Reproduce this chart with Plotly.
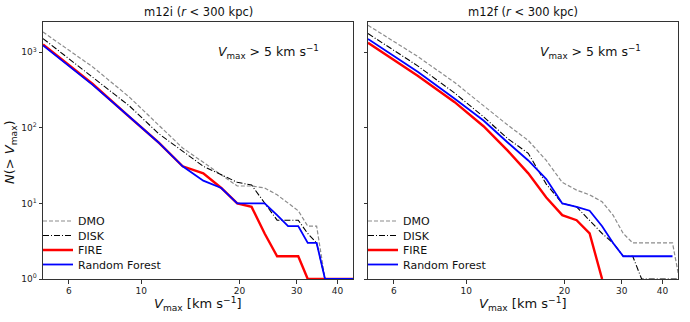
import plotly.graph_objects as go
import plotly.subplots as pls

# Vmax grid (km/s)
vmax = [5.0, 7.1, 9.2, 11.3, 13.4, 15.5, 17.6, 19.7, 21.8, 23.9,
        26.1, 28.2, 30.3, 32.4, 34.5, 36.6, 38.7, 40.8, 42.9, 45.0]

# m12i
m12i_dmo = [1850, 640, 255, 108, 54, 35, 24, 17, 17, 16,
            13, 10, 8, 5, 5, 1, 1, 1, 1, 1]
m12i_disk = [1515, 470, 195, 84, 49, 31, 24, 19, 17.5, 10,
             6, 6, 6, 4, 3, 1, 1, 1, 1, 1]
m12i_fire = [1265, 380, 140, 64, 31, 25, 16, 10, 9, 4,
             2, 2, 2, 1, 1, 1, 1, 1, 1, 1]
m12i_rf = [1230, 370, 140, 64, 31, 20, 16, 10, 10, 10,
           7, 5, 5, 3, 3, 1, 1, 1, 1, 1]

# m12f
m12f_dmo = [2274, 880, 400, 195, 109, 68, 37, 19, 15, 13,
            10.5, 7, 4, 3, 3, 3, 3, 3, 3, 1]
m12f_disk = [1766, 660, 290, 140, 72, 46, 18, 10, 9, 6,
             4, 3, 2, 2, 1, 1, 1, 1, 1, 1]
m12f_fire = [1330, 490, 220, 105, 50, 25, 12, 7, 6, 4,
             1, None, None, None, None, None, None, None, None, None]
m12f_rf = [1500, 550, 245, 125, 64, 37, 21, 10, 9, 8,
           5, 3, 2, 2, 2, 2, 2, 2, 2, None]

series_names = ["DMO", "DISK", "FIRE", "Random Forest"]
titles = ["m12i (<i>r</i> < 300 kpc)", "m12f (<i>r</i> < 300 kpc)"]

styles = {
    "DMO": dict(color="#8c8c8c", width=1.2, dash="4px,2px"),
    "DISK": dict(color="black", width=1.1, dash="6px,2px,1px,2px"),
    "FIRE": dict(color="#ff0000", width=2.4),
    "Random Forest": dict(color="#0000ff", width=1.8),
}

fig = pls.make_subplots(rows=1, cols=2)

panels = [
    [m12i_dmo, m12i_disk, m12i_fire, m12i_rf],
    [m12f_dmo, m12f_disk, m12f_fire, m12f_rf],
]

# one small legend per entry so the row spacing can follow the reference
leg_x = [38 / 690, 363 / 690]
leg_y = [221, 235.5, 250, 264.5]
legends = {}
k = 0
for i, panel in enumerate(panels):
    for j, (name, ys) in enumerate(zip(series_names, panel)):
        k += 1
        lname = "legend" if k == 1 else "legend%d" % k
        legends[lname] = dict(x=leg_x[i], y=1 - leg_y[j] / 322,
                              xanchor="left", yanchor="middle",
                              bgcolor="rgba(0,0,0,0)", font=dict(size=11, color="#111"),
                              itemwidth=30)
        fig.add_trace(go.Scatter(
            x=vmax, y=ys, mode="lines", name=name,
            line=styles[name], legend=lname, showlegend=True,
        ), row=1, col=i + 1)

font = "DejaVu Sans"
axcol = "#333333"

xaxis_common = dict(
    type="log", range=[0.69897, 1.6493], automargin=False,
    tickvals=[6, 10, 20, 30, 40], ticktext=["6", "10", "20", "30", "40"],
    ticks="outside", ticklen=3.5, tickcolor=axcol, tickfont=dict(size=9, color="#222"),
    showline=True, linecolor=axcol, linewidth=1, mirror=True,
    showgrid=False, zeroline=False,
)
yaxis_common = dict(
    type="log", range=[0, 3.4], automargin=False,
    tickvals=[1, 10, 100, 1000],
    ticks="outside", ticklen=3.5, tickcolor=axcol, tickfont=dict(size=9, color="#222"),
    showline=True, linecolor=axcol, linewidth=1, mirror=True,
    showgrid=False, zeroline=False,
)

fig.update_layout(
    xaxis=dict(xaxis_common, domain=[43 / 690, 353 / 690]),
    xaxis2=dict(xaxis_common, domain=[368 / 690, 678 / 690]),
    yaxis=dict(yaxis_common, domain=[1 - 279 / 322, 1 - 22 / 322],
               ticktext=["10<sup>0</sup>", "10<sup>1</sup>", "10<sup>2</sup>", "10<sup>3</sup>"]),
    yaxis2=dict(yaxis_common, domain=[1 - 279 / 322, 1 - 22 / 322],
                showticklabels=False),
    width=690, height=322,
    margin=dict(l=0, r=0, t=0, b=0),
    plot_bgcolor="white", paper_bgcolor="white",
    font=dict(family=font, color="#111"),
    **legends,
)


def label(text, px, py, size, angle=0):
    fig.add_annotation(text=text, x=px / 690, y=1 - py / 322, xref="paper", yref="paper",
                       xanchor="center", yanchor="middle", textangle=angle,
                       showarrow=False, font=dict(size=size, color="#111"))


for cx, title in zip([198, 523], titles):
    label(title, cx, 12, 11.5)
for cx in [268, 590]:
    label("<i>V</i><sub>max</sub> > 5 km s<sup>−1</sup>", cx, 52, 12.5)
for cx in [198, 523]:
    label("<i>V</i><sub>max</sub> [km s<sup>−1</sup>]", cx, 304, 13)
label("<i>N</i>(> <i>V</i><sub>max</sub>)", 10, 152, 13, angle=-90)

fig.write_html("out.html", config={"displayModeBar": False},
               post_script="document.body.style.margin='0';")
